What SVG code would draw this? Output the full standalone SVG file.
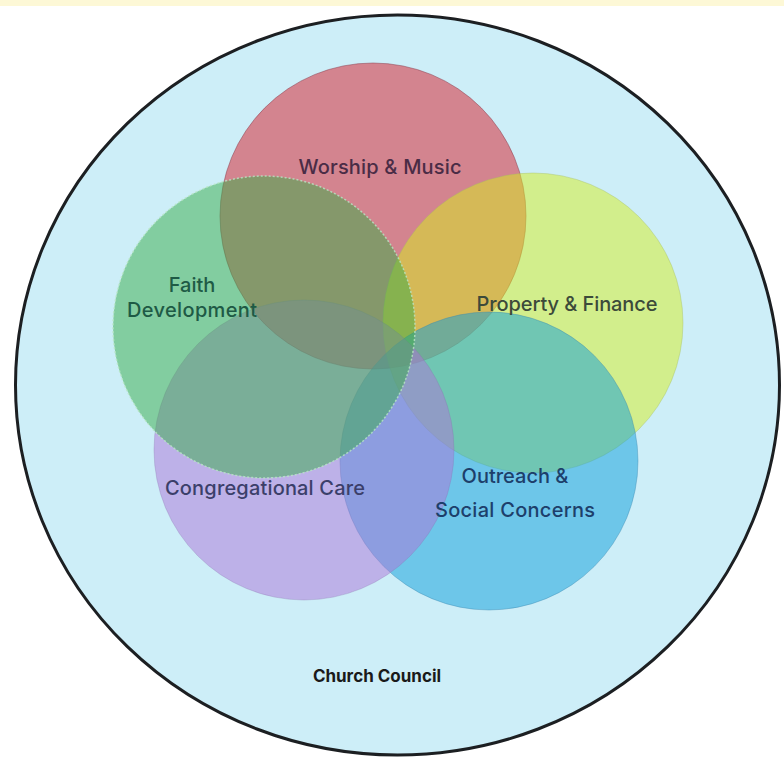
<svg xmlns="http://www.w3.org/2000/svg" width="784" height="759" viewBox="0 0 784 759">
  <style>
    .lbl { font-family: Inter, "Open Sans", "Liberation Sans", sans-serif; font-size: 20px; font-weight: 500; text-anchor: middle; }
    .title { font-family: Inter, "Open Sans", "Liberation Sans", sans-serif; font-size: 17px; font-weight: 700; text-anchor: middle; fill: #1a1a1a; }
  </style>
  <rect x="0" y="0" width="784" height="759" fill="#ffffff"/>
  <rect x="0" y="0" width="784" height="6" fill="#fdf8d6"/>
  <g id="church-council">
    <ellipse cx="397.5" cy="385" rx="382" ry="370" fill="#cdeef8" stroke="#1c1f22" stroke-width="3"/>
    <text class="title" x="377" y="682">Church Council</text>
  </g>
  <g id="worship-music">
    <circle cx="373" cy="216" r="153" fill="#d91a26" fill-opacity="0.5" stroke="#8a3a4a" stroke-opacity="0.5" stroke-width="1"/>
  </g>
  <g id="property-finance">
    <circle cx="533" cy="323" r="150" fill="#d7ee20" fill-opacity="0.5" stroke="#a8c060" stroke-opacity="0.4" stroke-width="1"/>
  </g>
  <g id="outreach">
    <circle cx="489" cy="461" r="149" fill="#0d9eda" fill-opacity="0.5" stroke="#3a86b0" stroke-opacity="0.4" stroke-width="1"/>
  </g>
  <g id="congregational-care">
    <circle cx="304" cy="450" r="150" fill="#ad74d8" fill-opacity="0.5" stroke="#8a70b0" stroke-opacity="0.3" stroke-width="1"/>
  </g>
  <g id="faith-development">
    <circle cx="264" cy="327" r="151" fill="#37ac48" fill-opacity="0.5" stroke="#b8e6c4" stroke-opacity="0.8" stroke-width="1.5" stroke-dasharray="2 2"/>
  </g>
  <g id="labels">
    <text class="lbl" x="380" y="174" fill="#4a2c46" textLength="163">Worship &amp; Music</text>
    <text class="lbl" x="192" y="292" fill="#1e5a45">Faith</text>
    <text class="lbl" x="192" y="317" fill="#1e5a45" textLength="130">Development</text>
    <text class="lbl" x="567" y="311" fill="#3c4a3a" textLength="181">Property &amp; Finance</text>
    <text class="lbl" x="265" y="495" fill="#3b3f6a" textLength="200">Congregational Care</text>
    <text class="lbl" x="515" y="483" fill="#1d3f6b">Outreach &amp;</text>
    <text class="lbl" x="515" y="517" fill="#1d3f6b" textLength="160">Social Concerns</text>
  </g>
  <g id="connectors"/>
</svg>
